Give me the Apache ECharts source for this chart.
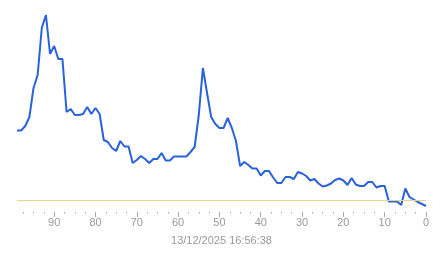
<!DOCTYPE html>
<html>
<head>
<meta charset="utf-8">
<script src="https://cdn.jsdelivr.net/npm/echarts@6/dist/echarts.min.js"></script>
<style>
html,body{margin:0;padding:0;background:#fff;}
#chart{width:443px;height:258px;}
</style>
</head>
<body>
<div id="chart"></div>
<script>
// x positions (descending, 99 -> 0)
var xValues = [];
for (var i = 99; i >= 0; i--) xValues.push(i);

// series values (order: x = 99 ... 0)
var seriesValues = [
  81.5, 81.5, 86, 95, 124, 137, 184, 197, 158, 166,
  153, 153, 100, 103, 97, 97, 98, 105, 98, 104,
  98, 72, 70, 64, 61, 71, 65.5, 65.5, 49, 52,
  56, 53, 49, 53, 53, 59, 51.5, 51.5, 55.5, 55.5,
  55.5, 55.5, 60, 65, 97, 144, 119, 95, 88, 84,
  84, 94, 84, 71, 46, 50, 47, 43.5, 43.5, 36.5,
  41, 41, 34.5, 29, 29, 35, 35, 33, 40, 38.5,
  36, 31.5, 33, 28.5, 25.5, 26.5, 28.5, 32, 33.5, 31.5,
  27, 34, 27.5, 26, 26, 30, 30, 24.5, 26, 26,
  10.5, 10.5, 10.5, 7, 23.5, 15, 12.5, 10, 8, 6
];

var thresholdValue = [11.7];
var tickLabels = [0, 10, 20, 30, 40, 50, 60, 70, 80, 90];
var axisTitle = ['13/12/2025 16:56:38'];

var data = xValues.map(function (x, i) { return [x, seriesValues[i]]; });

var chart = echarts.init(document.getElementById('chart'), null, {renderer: 'canvas'});
chart.setOption({
  animation: false,
  grid: {left: 17, right: 17, top: 10, bottom: 46},
  xAxis: {
    type: 'value',
    min: 0,
    max: 99,
    interval: 10,
    inverse: true,
    name: axisTitle[0],
    nameLocation: 'middle',
    nameGap: 23,
    nameTextStyle: {color: '#999', fontSize: 11, fontFamily: 'Liberation Sans, Arial, sans-serif'},
    axisLine: {show: false},
    splitLine: {show: false},
    axisTick: {show: true, length: 5, lineStyle: {color: '#aaa'}, customValues: tickLabels},
    minorTick: {show: true, splitNumber: 4, length: 1.5, lineStyle: {color: '#aaa'}},
    axisLabel: {
      color: '#999', fontSize: 11, margin: 5,
      fontFamily: 'Liberation Sans, Arial, sans-serif',
      customValues: tickLabels
    }
  },
  yAxis: {
    type: 'value',
    min: 0,
    max: 202,
    show: false
  },
  series: [{
    type: 'line',
    data: data,
    showSymbol: false,
    symbol: 'none',
    lineStyle: {color: '#2a62dc', width: 2},
    itemStyle: {color: '#2a62dc'},
    markLine: {
      silent: true,
      symbol: 'none',
      label: {show: false},
      lineStyle: {color: '#e8d58c', width: 1, type: 'solid'},
      data: [{yAxis: thresholdValue[0]}]
    }
  }]
});
</script>
</body>
</html>
